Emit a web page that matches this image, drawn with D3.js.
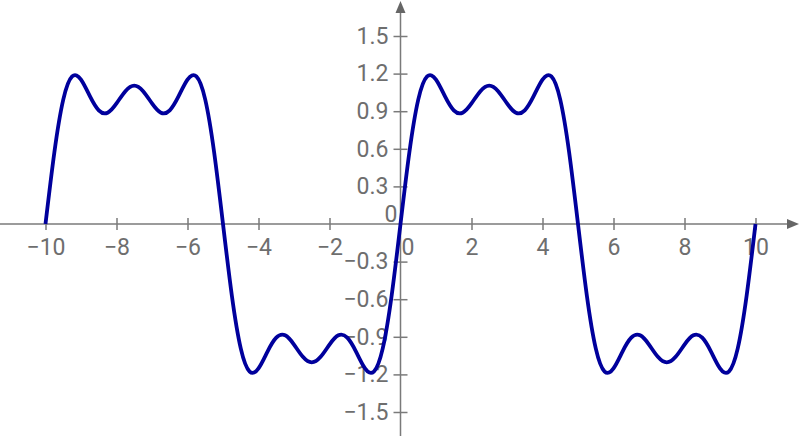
<!DOCTYPE html>
<html>
<head>
<meta charset="utf-8">
<script src="https://cdn.jsdelivr.net/npm/d3@7"></script>
<style>
  html, body { margin: 0; padding: 0; background: #fff; }
  svg { display: block; }
  .tick text { font-family: Roboto, "Liberation Sans", sans-serif; font-size: 23px; fill: #6e6e6e; }
</style>
</head>
<body>
<svg id="chart" width="800" height="436"></svg>
<script>
// samples of the curve (x step 0.25)
var xValues = [
  -10, -9.75, -9.5, -9.25, -9, -8.75, -8.5, -8.25, -8, -7.75, -7.5, -7.25, -7, -6.75, -6.5, -6.25, -6, -5.75, -5.5, -5.25,
  -5, -4.75, -4.5, -4.25, -4, -3.75, -3.5, -3.25, -3, -2.75, -2.5, -2.25, -2, -1.75, -1.5, -1.25, -1, -0.75, -0.5, -0.25,
  0, 0.25, 0.5, 0.75, 1, 1.25, 1.5, 1.75, 2, 2.25, 2.5, 2.75, 3, 3.25, 3.5, 3.75, 4, 4.25, 4.5, 4.75,
  5, 5.25, 5.5, 5.75, 6, 6.25, 6.5, 6.75, 7, 7.25, 7.5, 7.75, 8, 8.25, 8.5, 8.75, 9, 9.25, 9.5, 9.75, 10
];
var yValues = [
  0, 0.572, 0.992, 1.177, 1.152, 1.020, 0.907, 0.888, 0.962, 1.060, 1.104, 1.060, 0.962, 0.888, 0.907, 1.020, 1.152, 1.177, 0.992, 0.572,
  0, -0.572, -0.992, -1.177, -1.152, -1.020, -0.907, -0.888, -0.962, -1.060, -1.104, -1.060, -0.962, -0.888, -0.907, -1.020, -1.152, -1.177, -0.992, -0.572,
  0, 0.572, 0.992, 1.177, 1.152, 1.020, 0.907, 0.888, 0.962, 1.060, 1.104, 1.060, 0.962, 0.888, 0.907, 1.020, 1.152, 1.177, 0.992, 0.572,
  0, -0.572, -0.992, -1.177, -1.152, -1.020, -0.907, -0.888, -0.962, -1.060, -1.104, -1.060, -0.962, -0.888, -0.907, -1.020, -1.152, -1.177, -0.992, -0.572,
  0
];

var xTicks = [-10, -8, -6, -4, -2, 0, 2, 4, 6, 8, 10];
var xTickLabels = ["\u221210", "\u22128", "\u22126", "\u22124", "\u22122", "0", "2", "4", "6", "8", "10"];
var yTicks = [-1.5, -1.2, -0.9, -0.6, -0.3, 0, 0.3, 0.6, 0.9, 1.2, 1.5];
var yTickLabels = ["\u22121.5", "\u22121.2", "\u22120.9", "\u22120.6", "\u22120.3", "0", "0.3", "0.6", "0.9", "1.2", "1.5"];

var svg = d3.select('#chart');
var width = +svg.attr('width'),
    height = +svg.attr('height');

var x = d3.scaleLinear().domain([-10, 10]).range([45.5, 755.5]);
var y = d3.scaleLinear().domain([-1.5, 1.5]).range([412, 36]);

var axisColor = '#7a7a7a';
var x0 = x(0), y0 = y(0);

// axis lines with arrows
svg.append('line')
    .attr('x1', 0).attr('x2', width - 13)
    .attr('y1', y0).attr('y2', y0)
    .attr('stroke', axisColor).attr('stroke-width', 1.5);
svg.append('path')
    .attr('d', 'M' + (width - 13) + ',' + (y0 - 5) + 'L' + (width - 1) + ',' + y0 + 'L' + (width - 13) + ',' + (y0 + 5) + 'Z')
    .attr('fill', '#666');

svg.append('line')
    .attr('x1', x0).attr('x2', x0)
    .attr('y1', height).attr('y2', 13)
    .attr('stroke', axisColor).attr('stroke-width', 1.5);
svg.append('path')
    .attr('d', 'M' + (x0 - 5) + ',13L' + x0 + ',1L' + (x0 + 5) + ',13Z')
    .attr('fill', '#666');

// x axis ticks + labels
var gx = svg.append('g')
    .attr('transform', 'translate(0,' + y0 + ')')
    .call(d3.axisBottom(x)
        .tickValues(xTicks)
        .tickSize(6)
        .tickPadding(9)
        .tickFormat(function(d, i) { return xTickLabels[i]; }));
gx.select('.domain').remove();
gx.selectAll('.tick line')
    .attr('y1', -6).attr('y2', 6)
    .attr('stroke', axisColor).attr('stroke-width', 1.5);
gx.selectAll('.tick')
    .filter(function(d) { return d === 0; })
    .select('line').remove();
gx.selectAll('.tick')
    .filter(function(d) { return d === 0; })
    .select('text').attr('x', 7);

// y axis ticks + labels
var gy = svg.append('g')
    .attr('transform', 'translate(' + x0 + ',0)')
    .call(d3.axisLeft(y)
        .tickValues(yTicks)
        .tickSize(7)
        .tickPadding(5)
        .tickFormat(function(d, i) { return yTickLabels[i]; }));
gy.select('.domain').remove();
gy.selectAll('.tick line')
    .attr('x1', -7).attr('x2', 7)
    .attr('stroke', axisColor).attr('stroke-width', 1.5);
gy.selectAll('.tick')
    .filter(function(d) { return d === 0; })
    .select('line').remove();
gy.selectAll('.tick')
    .filter(function(d) { return d === 0; })
    .select('text').attr('x', -3).attr('dy', '-0.1em');

// the curve
var points = xValues.map(function(d, i) { return [d, yValues[i]]; });
var line = d3.line()
    .x(function(d) { return x(d[0]); })
    .y(function(d) { return y(d[1]); })
    .curve(d3.curveNatural);

svg.append('path')
    .datum(points)
    .attr('fill', 'none')
    .attr('stroke', '#00009c')
    .attr('stroke-width', 3.8)
    .attr('d', line);
</script>
</body>
</html>
